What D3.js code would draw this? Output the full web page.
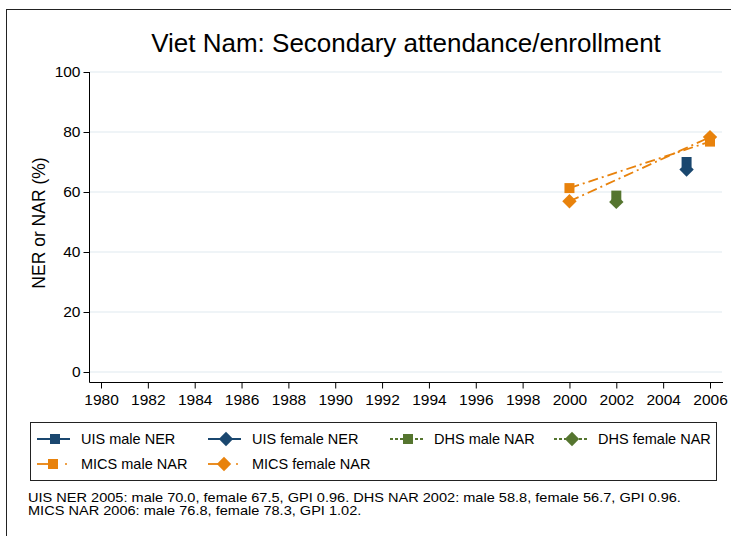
<!DOCTYPE html>
<html>
<head>
<meta charset="utf-8">
<script src="https://cdn.jsdelivr.net/npm/d3@7"></script>
<style>
  body { margin: 0; background: #fff; }
  svg { font-family: "Liberation Sans", Arial, sans-serif; }
</style>
</head>
<body>
<svg id="chart" width="731" height="536"></svg>
<script>
// data
const years = [1980, 1982, 1984, 1986, 1988, 1990, 1992, 1994, 1996, 1998, 2000, 2002, 2004, 2006];
const yTicks = [0, 20, 40, 60, 80, 100];

const uisMale = [{ year: 2005, value: 70.0 }];
const uisFemale = [{ year: 2005, value: 67.5 }];
const dhsMale = [{ year: 2002, value: 58.8 }];
const dhsFemale = [{ year: 2002, value: 56.7 }];
const micsMale = [{ year: 2000, value: 61.3 }, { year: 2006, value: 76.8 }];
const micsFemale = [{ year: 2000, value: 56.9 }, { year: 2006, value: 78.3 }];

const noteLines = [
	"UIS NER 2005: male 70.0, female 67.5, GPI 0.96. DHS NAR 2002: male 58.8, female 56.7, GPI 0.96.",
	"MICS NAR 2006: male 76.8, female 78.3, GPI 1.02."
];

const navy = "#1a476f", green = "#55752f", orange = "#e8820c";

const series = [
	{ name: "UIS male NER", data: uisMale, color: navy, shape: "square", dash: null },
	{ name: "UIS female NER", data: uisFemale, color: navy, shape: "diamond", dash: null },
	{ name: "DHS male NAR", data: dhsMale, color: green, shape: "square", dash: "3,2" },
	{ name: "DHS female NAR", data: dhsFemale, color: green, shape: "diamond", dash: "3,2" },
	{ name: "MICS male NAR", data: micsMale, color: orange, shape: "square", dash: "10,4,2,4" },
	{ name: "MICS female NAR", data: micsFemale, color: orange, shape: "diamond", dash: "10,4,2,4" }
];

const svg = d3.select("#chart");

// outer frame
svg.append("rect")
	.attr("x", 6.5).attr("y", 9.5)
	.attr("width", 740).attr("height", 540)
	.attr("fill", "none").attr("stroke", "#222").attr("stroke-width", 1);

const x = d3.scaleLinear().domain([1980, 2006]).range([101, 710]);
const y = d3.scaleLinear().domain([0, 100]).range([372, 72]);

// gridlines
svg.append("g").selectAll("line")
	.data(yTicks)
	.join("line")
	.attr("x1", 90).attr("x2", 722)
	.attr("y1", d => y(d)).attr("y2", d => y(d))
	.attr("stroke", "#eaf0f5").attr("stroke-width", 1.5);

// axes
const yAxis = svg.append("g")
	.attr("transform", "translate(89.5,0)")
	.call(d3.axisLeft(y).tickValues(yTicks).tickSize(6).tickPadding(3));
yAxis.select(".domain").attr("d", "M0,72V382.5");

const xAxis = svg.append("g")
	.attr("transform", "translate(0,382.5)")
	.call(d3.axisBottom(x).tickValues(years).tickFormat(d3.format("d")).tickSize(6).tickPadding(5));
xAxis.select(".domain").attr("d", "M89.5,0H723");

svg.selectAll(".tick text").attr("font-size", 15.5).attr("fill", "#000")
	.attr("font-family", "Liberation Sans, Arial, sans-serif");
svg.selectAll(".tick line").attr("stroke", "#000");
svg.selectAll(".domain").attr("stroke", "#000");

// title and axis label
svg.append("text")
	.attr("x", 406).attr("y", 52)
	.attr("text-anchor", "middle")
	.attr("font-size", 26)
	.text("Viet Nam: Secondary attendance/enrollment");

svg.append("text")
	.attr("transform", "translate(45,223) rotate(-90)")
	.attr("text-anchor", "middle")
	.attr("font-size", 17.5)
	.text("NER or NAR (%)");

function marker(sel, shape, color, s) {
	if (shape === "square") {
		sel.append("rect")
			.attr("x", -s / 2).attr("y", -s / 2)
			.attr("width", s).attr("height", s)
			.attr("fill", color);
	} else {
		const r = s * 0.72;
		sel.append("path")
			.attr("d", `M0,${-r}L${r},0L0,${r}L${-r},0Z`)
			.attr("fill", color);
	}
}

const line = d3.line().x(d => x(d.year)).y(d => y(d.value));

// series
series.forEach(s => {
	if (s.data.length > 1) {
		svg.append("path")
			.datum(s.data)
			.attr("d", line)
			.attr("fill", "none")
			.attr("stroke", s.color)
			.attr("stroke-width", 1.8)
			.attr("stroke-dasharray", s.dash);
	}
	s.data.forEach(d => {
		const g = svg.append("g").attr("transform", `translate(${x(d.year)},${y(d.value)})`);
		marker(g, s.shape, s.color, 10);
	});
});

// legend
svg.append("rect")
	.attr("x", 30.5).attr("y", 422.5)
	.attr("width", 686).attr("height", 58)
	.attr("fill", "none").attr("stroke", "#222");

const legCols = [81, 252, 434, 598];
const legRows = [439, 464];

series.forEach((s, i) => {
	const tx = legCols[i % 4], cy = legRows[Math.floor(i / 4)];
	const g = svg.append("g").attr("transform", `translate(${tx},${cy})`);
	const mics = s.name.startsWith("MICS");
	if (mics) {
		g.append("line").attr("x1", -44).attr("x2", -24).attr("y1", 0).attr("y2", 0)
			.attr("stroke", s.color).attr("stroke-width", 1.8);
		g.append("circle").attr("cx", -15).attr("cy", 0).attr("r", 1).attr("fill", s.color);
	} else {
		g.append("line").attr("x1", -44).attr("x2", -11).attr("y1", 0).attr("y2", 0)
			.attr("stroke", s.color).attr("stroke-width", 1.8)
			.attr("stroke-dasharray", s.dash);
	}
	const m = g.append("g").attr("transform", `translate(${mics ? -28 : -26},0)`);
	marker(m, s.shape, s.color, 10);
	g.append("text")
		.attr("x", 0).attr("y", 5)
		.attr("font-size", 14.5)
		.text(s.name);
});

// note, slightly widened like the reference's text
svg.append("g").selectAll("text")
	.data(noteLines)
	.join("text")
	.attr("transform", (d, i) => `translate(28,${502 + i * 13}) scale(1.12,1)`)
	.attr("font-size", 13)
	.text(d => d);
</script>
</body>
</html>
